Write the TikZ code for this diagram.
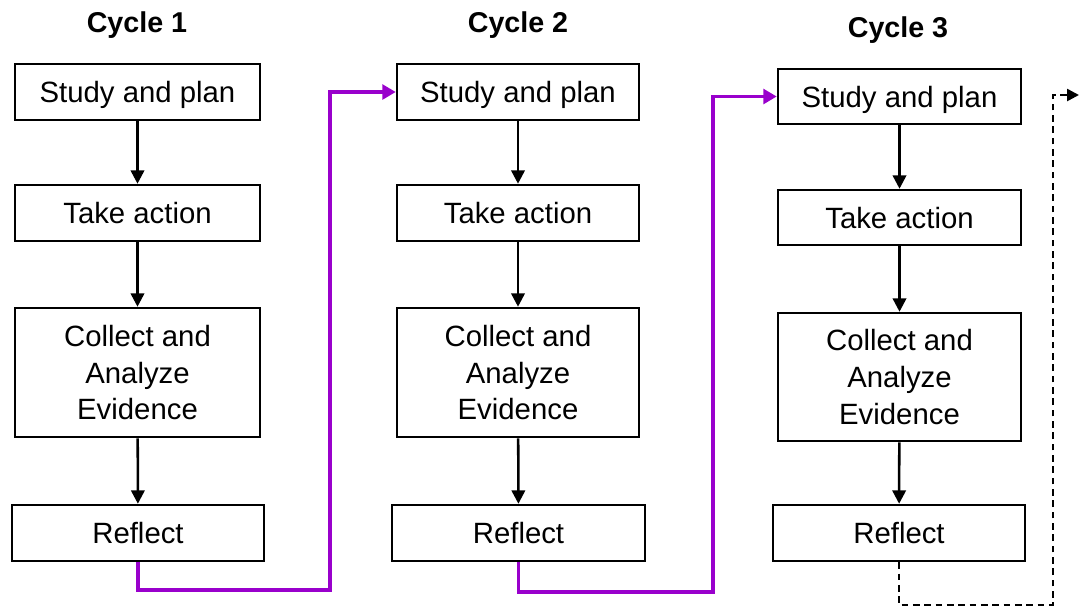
\documentclass[tikz,border=0pt]{standalone}
\usepackage{fontspec}
\setmainfont{Liberation Sans}
\usetikzlibrary{arrows.meta}
\definecolor{linkpurple}{RGB}{153,0,204}
\begin{document}
\begin{tikzpicture}[x=0.75pt,y=-0.75pt,
  stepbox/.style={draw=black,line width=1.9pt,fill=white,inner sep=0pt,
    minimum width=183pt,minimum height=42pt,align=center,text depth=0pt,
    font=\fontsize{22}{27.5}\selectfont},
  title/.style={font=\fontsize{21.5}{26}\selectfont\bfseries},
  flow/.style={line width=1.9pt,-{Triangle[length=10pt,width=10pt]}},
  link/.style={draw=linkpurple,line width=2.6pt,-{Triangle[length=10pt,width=11pt]},color=linkpurple},
  next/.style={line width=1.9pt,dash pattern=on 5pt off 3.5pt,-{Triangle[length=9pt,width=9pt]}}
]
\useasboundingbox (0,0) rectangle (1080,608);

% Cycle 1
\node[title] (t1) at (137,25) {Cycle 1};
\node[stepbox,minimum width=183.75pt] (s1) at (137.5,92) {Study and plan};
\node[stepbox,minimum width=183.75pt] (a1) at (137.5,213) {Take action};
\node[stepbox,minimum width=183.75pt,minimum height=96.75pt] (c1) at (137.5,372.5) {Collect and\\Analyze\\Evidence};
\node[stepbox,minimum width=189pt] (r1) at (138,533) {Reflect};

% Cycle 2
\node[title] (t2) at (518,25) {Cycle 2};
\node[stepbox,minimum width=181.5pt] (s2) at (518,92) {Study and plan};
\node[stepbox,minimum width=181.5pt] (a2) at (518,213) {Take action};
\node[stepbox,minimum width=181.5pt,minimum height=96.75pt] (c2) at (518,372.5) {Collect and\\Analyze\\Evidence};
\node[stepbox,minimum width=189.75pt] (r2) at (518.5,533) {Reflect};

% Cycle 3
\node[title] (t3) at (898,30) {Cycle 3};
\node[stepbox,minimum width=182.25pt,minimum height=41.25pt] (s3) at (899.5,96.5) {Study and plan};
\node[stepbox,minimum width=182.25pt,minimum height=41.25pt] (a3) at (899.5,217.5) {Take action};
\node[stepbox,minimum width=182.25pt,minimum height=96pt] (c3) at (899.5,377) {Collect and\\Analyze\\Evidence};
\node[stepbox,minimum width=189pt] (r3) at (899,533) {Reflect};

% steps within each cycle
\foreach \i in {1,2,3}{
  \draw[flow] (s\i) -- (a\i);
  \draw[flow] (a\i) -- (c\i);
  \draw[flow] (c\i) -- (r\i);
}

% links from one cycle to the next
\coordinate (k1) at (330,590);
\coordinate (k2) at (713,592);
\coordinate (k3) at (1053,605);
\coordinate (e3) at (1079,95);
\draw[link] (r1.south) |- (k1) |- (s2.west);
\draw[link] (r2.south) |- (k2) |- (s3.west);
\draw[next] (r3.south) |- (k3) |- (e3);
\end{tikzpicture}
\end{document}
